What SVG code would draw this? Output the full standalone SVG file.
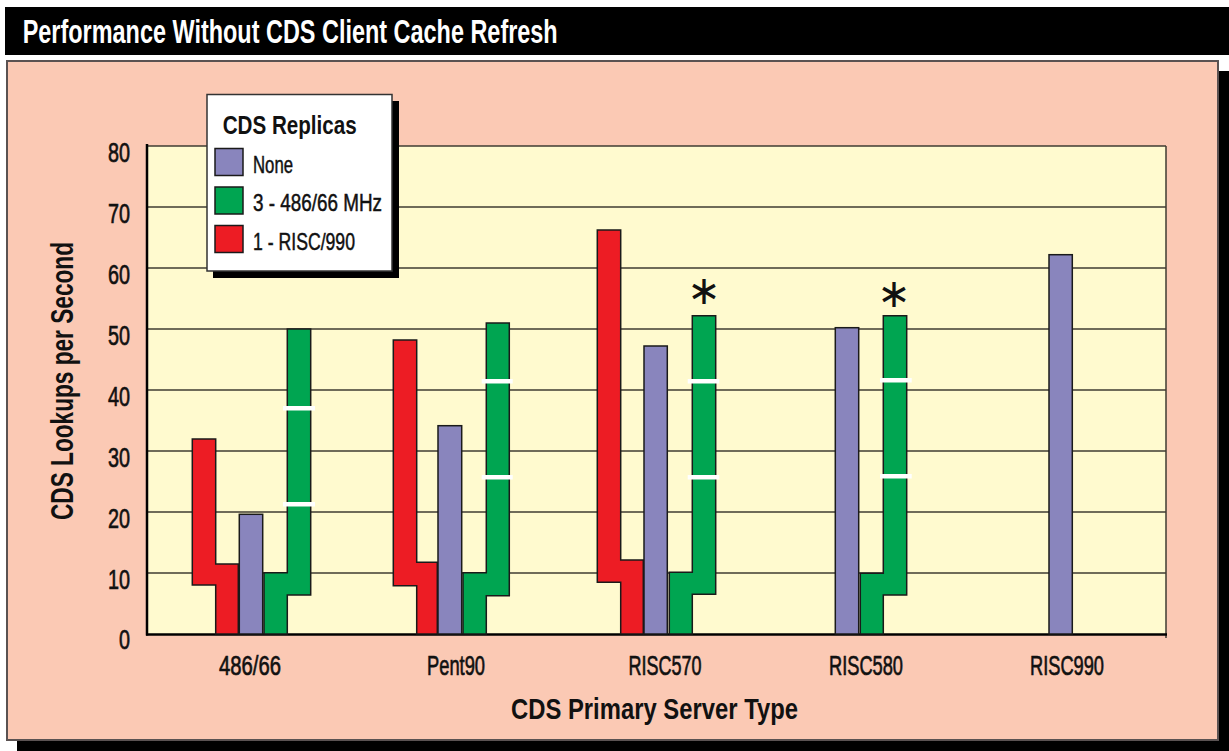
<svg xmlns="http://www.w3.org/2000/svg" width="1229" height="751" viewBox="0 0 1229 751">
<style>
.t{font-family:"Liberation Sans",Arial,sans-serif;}
.b{font-weight:bold;}
.lab{font-size:28.5px;fill:#111;stroke:#111;stroke-width:0.7px;}
.leg{font-size:24.5px;fill:#111;stroke:#111;stroke-width:0.5px;}
.bar{stroke:#1a1a1a;stroke-width:1.5;stroke-linejoin:miter;}
.red{fill:#ED1C24;}
.pur{fill:#8985BD;}
.grn{fill:#00A551;}
.grid{stroke:#3f3b32;stroke-width:1.5;}
.wm{fill:#ffffff;}
.ast{font-family:"DejaVu Sans",sans-serif;font-size:40px;fill:#111;}
</style>
<rect x="0" y="0" width="1229" height="751" fill="#ffffff"/>
<g id="title">
<rect x="5" y="7" width="1224" height="48" fill="#000"/>
<text class="t b" x="22.7" y="42.7" font-size="32.5" fill="#fff" textLength="535" lengthAdjust="spacingAndGlyphs">Performance Without CDS Client Cache Refresh</text>
</g>
<g id="panel">
<rect x="17" y="71" width="1212" height="680" fill="#000"/>
<rect x="7" y="61" width="1211" height="679" fill="#FBC9B4" stroke="#5a5252" stroke-width="2"/>
</g>
<g id="plot">
<rect x="148" y="146" width="1018" height="488" fill="#FFFACF"/>
<g class="grid">
<line x1="148" y1="146" x2="1166" y2="146"/>
<line x1="148" y1="207" x2="1166" y2="207"/>
<line x1="148" y1="268" x2="1166" y2="268"/>
<line x1="148" y1="329" x2="1166" y2="329"/>
<line x1="148" y1="390" x2="1166" y2="390"/>
<line x1="148" y1="451" x2="1166" y2="451"/>
<line x1="148" y1="512" x2="1166" y2="512"/>
<line x1="148" y1="573" x2="1166" y2="573"/>
<line x1="1166" y1="146" x2="1166" y2="638"/>
</g>
<line x1="147" y1="144" x2="147" y2="635.5" stroke="#000" stroke-width="2.5"/>
<line x1="146" y1="634.5" x2="1167" y2="634.5" stroke="#000" stroke-width="2.5"/>
</g>
<g id="yticks" class="t lab">
<text x="130" y="162" text-anchor="end" textLength="22" lengthAdjust="spacingAndGlyphs">80</text>
<text x="130" y="223" text-anchor="end" textLength="22" lengthAdjust="spacingAndGlyphs">70</text>
<text x="130" y="284" text-anchor="end" textLength="22" lengthAdjust="spacingAndGlyphs">60</text>
<text x="130" y="345" text-anchor="end" textLength="22" lengthAdjust="spacingAndGlyphs">50</text>
<text x="130" y="406" text-anchor="end" textLength="22" lengthAdjust="spacingAndGlyphs">40</text>
<text x="130" y="467" text-anchor="end" textLength="22" lengthAdjust="spacingAndGlyphs">30</text>
<text x="130" y="528" text-anchor="end" textLength="22" lengthAdjust="spacingAndGlyphs">20</text>
<text x="130" y="589" text-anchor="end" textLength="22" lengthAdjust="spacingAndGlyphs">10</text>
<text x="130" y="649" text-anchor="end" textLength="11" lengthAdjust="spacingAndGlyphs">0</text>
</g>
<g id="yaxis-title">
<text class="t b" transform="translate(73,381) rotate(-90)" font-size="30.5" fill="#111" text-anchor="middle" textLength="278" lengthAdjust="spacingAndGlyphs">CDS Lookups per Second</text>
</g>
<g id="xlabels" class="t lab">
<text x="250" y="675" text-anchor="middle" textLength="62" lengthAdjust="spacingAndGlyphs">486/66</text>
<text x="456" y="675" text-anchor="middle" textLength="58" lengthAdjust="spacingAndGlyphs">Pent90</text>
<text x="665" y="675" text-anchor="middle" textLength="73" lengthAdjust="spacingAndGlyphs">RISC570</text>
<text x="866" y="675" text-anchor="middle" textLength="74" lengthAdjust="spacingAndGlyphs">RISC580</text>
<text x="1067" y="675" text-anchor="middle" textLength="74" lengthAdjust="spacingAndGlyphs">RISC990</text>
</g>
<g id="xaxis-title">
<text class="t b" x="654.5" y="719" font-size="29.5" fill="#111" text-anchor="middle" textLength="287" lengthAdjust="spacingAndGlyphs">CDS Primary Server Type</text>
</g>
<g id="group-486-66">
<path class="bar red" d="M192.3,439 H215.7 V564 H238.3 V634 H215.7 V585 H192.3 Z"/>
<rect class="bar pur" x="239.3" y="514.3" width="23.4" height="119.7"/>
<path class="bar grn" d="M264,572.7 H287.3 V329 H310.7 V595 H287.3 V634 H264 Z"/>
<rect class="wm" x="283" y="406" width="32" height="4.5"/>
<rect class="wm" x="283" y="502" width="32" height="4.5"/>
</g>
<g id="group-pent90">
<path class="bar red" d="M393.3,340 H416.7 V562.3 H437.3 V634 H416.7 V585.7 H393.3 Z"/>
<rect class="bar pur" x="438" y="425.7" width="23.7" height="208.3"/>
<path class="bar grn" d="M463,572.7 H486.3 V323 H509.3 V595.7 H486.3 V634 H463 Z"/>
<rect class="wm" x="481.7" y="379" width="31" height="4.5"/>
<rect class="wm" x="481.7" y="475" width="31" height="4.5"/>
</g>
<g id="group-risc570">
<path class="bar red" d="M597.3,230 H620.7 V560 H643.3 V634 H620.7 V582.3 H597.3 Z"/>
<rect class="bar pur" x="644" y="346" width="23.3" height="288"/>
<path class="bar grn" d="M669.3,572.3 H692.3 V315.7 H715.7 V594.3 H692.3 V634 H669.3 Z"/>
<rect class="wm" x="687.7" y="379" width="31.6" height="4.5"/>
<rect class="wm" x="687.7" y="475" width="31.6" height="4.5"/>
<text class="ast" x="704" y="304" text-anchor="middle">∗</text>
</g>
<g id="group-risc580">
<rect class="bar pur" x="835.3" y="327.7" width="23.4" height="306.3"/>
<path class="bar grn" d="M860.3,573.3 H883.3 V315.7 H906.7 V595 H883.3 V634 H860.3 Z"/>
<rect class="wm" x="880" y="378" width="31.7" height="4.5"/>
<rect class="wm" x="880" y="474" width="31.7" height="4.5"/>
<text class="ast" x="894" y="307" text-anchor="middle">∗</text>
</g>
<g id="group-risc990">
<rect class="bar pur" x="1049" y="254.7" width="23.3" height="379.3"/>
</g>
<g id="legend">
<rect x="213" y="101" width="186" height="177" fill="#000"/>
<rect x="207" y="94.5" width="185" height="176.5" fill="#fff" stroke="#333" stroke-width="1.5"/>
<text class="t b" x="222.7" y="133.5" font-size="25" fill="#111" textLength="134" lengthAdjust="spacingAndGlyphs">CDS Replicas</text>
<rect class="bar pur" x="215" y="148.5" width="28" height="27"/>
<rect class="bar grn" x="215" y="187" width="28" height="27"/>
<rect class="bar red" x="215" y="225.5" width="28" height="27"/>
<text class="t leg" x="253" y="172.5" textLength="40" lengthAdjust="spacingAndGlyphs">None</text>
<text class="t leg" x="253" y="211" textLength="129" lengthAdjust="spacingAndGlyphs">3 - 486/66 MHz</text>
<text class="t leg" x="253" y="249.5" textLength="102" lengthAdjust="spacingAndGlyphs">1 - RISC/990</text>
</g>
</svg>
